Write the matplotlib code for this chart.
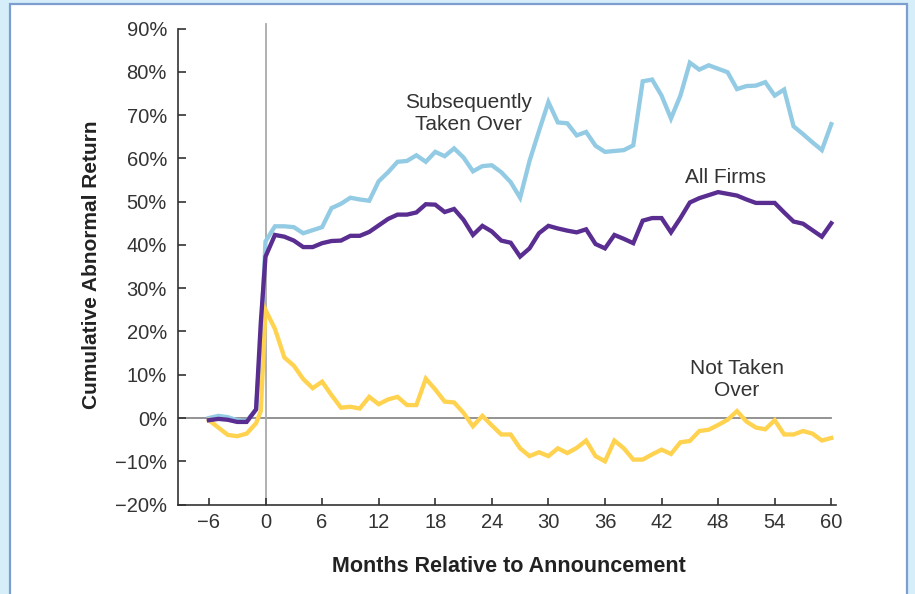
import matplotlib
matplotlib.use('Agg')
import matplotlib.pyplot as plt
from matplotlib.patches import Rectangle

# months relative to announcement (finer steps around the jump)
months = [-6, -5, -4, -3, -2, -1, -0.5, 0] + list(range(1, 61))

taken_over = [0, 0.5, 0.2, -0.5, -0.7, 2, 18, 40.8,
              44.3, 44.3, 44.1, 42.7, 43.4, 44.1, 48.5, 49.5, 50.9, 50.5,
              50.2, 54.7, 56.8, 59.2, 59.4, 60.7, 59.2, 61.5, 60.5, 62.3,
              60.2, 57.0, 58.2, 58.4, 56.8, 54.5, 50.9, 59.4, 66.3, 73.0,
              68.3, 68.1, 65.3, 66.1, 62.9, 61.5, 61.7, 61.9, 63.0, 77.8,
              78.2, 74.5, 69.2, 74.5, 82.1, 80.5, 81.5, 80.7, 79.9, 76.0,
              76.7, 76.8, 77.6, 74.5, 75.9, 67.4, 65.6, 63.7, 61.9, 67.9]

all_firms = [-0.5, -0.2, -0.4, -0.9, -0.9, 2, 22, 37.3,
             42.3, 41.9, 41.0, 39.5, 39.5, 40.4, 40.9, 41.0, 42.1, 42.1,
             43.0, 44.5, 46.0, 47.0, 47.0, 47.5, 49.4, 49.3, 47.6, 48.3,
             45.8, 42.3, 44.4, 43.1, 41.0, 40.5, 37.3, 39.2, 42.7, 44.4,
             43.8, 43.3, 42.9, 43.6, 40.2, 39.2, 42.3, 41.4, 40.4, 45.6,
             46.2, 46.2, 42.9, 46.2, 49.8, 50.8, 51.5, 52.2, 51.8, 51.4,
             50.5, 49.7, 49.7, 49.7, 47.5, 45.4, 44.9, 43.4, 41.9, 45.0]

not_taken = [-0.5, -2.2, -3.9, -4.2, -3.6, -1.2, 1.6, 25.0,
             20.6, 14.0, 12.1, 9.0, 6.9, 8.4, 5.3, 2.4, 2.6, 2.2,
             4.9, 3.2, 4.3, 4.9, 3.0, 3.0, 9.1, 6.6, 3.8, 3.6,
             1.2, -1.9, 0.5, -1.7, -3.8, -3.8, -7.0, -8.8, -7.9, -8.8,
             -7.0, -8.1, -6.9, -5.2, -8.8, -10.0, -5.2, -7.0, -9.6, -9.6,
             -8.4, -7.3, -8.3, -5.6, -5.3, -3.0, -2.7, -1.6, -0.4, 1.6,
             -0.8, -2.2, -2.6, -0.5, -3.8, -3.8, -3.0, -3.6, -5.2, -4.6]

x_ticks = [-6, 0, 6, 12, 18, 24, 30, 36, 42, 48, 54, 60]
y_ticks = [-20, -10, 0, 10, 20, 30, 40, 50, 60, 70, 80, 90]

plt.rcParams['font.family'] = ['Liberation Sans', 'DejaVu Sans']

fig = plt.figure(figsize=(9.15, 5.94), dpi=100)
fig.patch.set_facecolor('#d6eef9')
fig.patches.append(Rectangle((9.5 / 915, -0.02), 897 / 915, 1.02 - 3.5 / 594,
                             transform=fig.transFigure, facecolor='white',
                             edgecolor='#7d9fd0', linewidth=1.6, zorder=-10))

ax = fig.add_axes([178 / 915, 89.4 / 594, 658 / 915, 476.1 / 594])
ax.set_facecolor('none')

ax.axhline(0, xmin=0, xmax=(60 + 9.28) / 69.78, color='#8a8a8a', lw=1.3, zorder=1)
ax.axvline(0, ymin=0, ymax=1.01, color='#aaaaaa', lw=1.3, zorder=1, clip_on=False)

ax.plot(months, taken_over, color='#93cbe4', lw=3.1, solid_joinstyle='miter', zorder=3)
ax.plot(months, not_taken, color='#ffd24f', lw=3.1, solid_joinstyle='miter', zorder=3)
ax.plot(months, all_firms, color='#5a2d91', lw=3.1, solid_joinstyle='miter', zorder=4)

ax.set_xlim(-9.28, 60.5)
ax.set_ylim(-20, 90)

for s in ['top', 'right']:
    ax.spines[s].set_visible(False)
for s in ['left', 'bottom']:
    ax.spines[s].set_color('#333333')
    ax.spines[s].set_linewidth(1.2)

ax.set_xticks(x_ticks)
ax.set_xticklabels([str(t).replace('-', '\u2212') for t in x_ticks], fontsize=14.5)
ax.set_yticks(y_ticks)
ax.set_yticklabels([(str(t) + '%').replace('-', '\u2212') for t in y_ticks], fontsize=14.5)
ax.tick_params(axis='y', direction='in', length=6, width=1.2, color='#333333',
               labelcolor='#333333', pad=8)
ax.tick_params(axis='x', direction='in', length=5, width=1.2, color='#333333',
               labelcolor='#333333', pad=6)

ax.set_xlabel('Months Relative to Announcement', fontsize=15.5, fontweight='bold',
              color='#222222')
ax.xaxis.label.set_va('center')
ax.xaxis.set_label_coords(0.503, -0.131)
ax.set_ylabel('Cumulative Abnormal Return', fontsize=15, fontweight='bold',
              color='#222222')
ax.yaxis.label.set_va('center')
ax.yaxis.set_label_coords(-0.131, 0.503)

ax.text(21.5, 70.3, 'Subsequently\nTaken Over', ha='center', va='center',
        fontsize=15, color='#333333', linespacing=1.22)
ax.text(48.8, 55.6, 'All Firms', ha='center', va='center',
        fontsize=15, color='#333333')
ax.text(50.0, 8.9, 'Not Taken\nOver', ha='center', va='center',
        fontsize=15, color='#333333', linespacing=1.22)

fig.savefig('out.png', dpi=100, facecolor=fig.get_facecolor())
